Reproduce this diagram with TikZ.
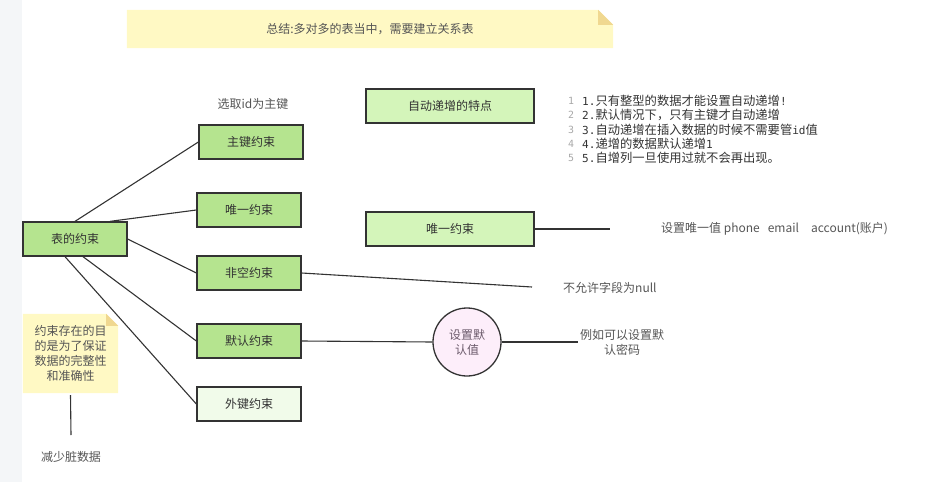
\documentclass[tikz,border=0pt]{standalone}
\usepackage{fontspec}
\setmainfont{Noto Sans CJK SC}
\newfontfamily\monofont[Scale=0.9]{DejaVu Sans Mono}
\usetikzlibrary{positioning}
\definecolor{linegray}{HTML}{333333}
\definecolor{textdark}{HTML}{333333}
\definecolor{textgray}{HTML}{555555}
\definecolor{numgray}{HTML}{A8A8A8}
\definecolor{boxgreen}{HTML}{B5E48F}
\definecolor{paleboxgreen}{HTML}{D4F5BA}
\definecolor{fkgreen}{HTML}{F1FBEA}
\definecolor{notefill}{HTML}{FFF9C4}
\definecolor{foldfill}{HTML}{F0D890}
\definecolor{circfill}{HTML}{FDEEFA}
\definecolor{circtext}{HTML}{6B5A6B}
\definecolor{sidebg}{HTML}{F4F6F8}

\begin{document}
\begin{tikzpicture}[
  x=1pt, y=-1pt,
  font=\fontsize{12}{15}\selectfont,
  box/.style={draw=linegray, line width=1.3pt, fill=boxgreen, text=textdark, minimum width=104pt, minimum height=34pt, inner sep=2pt},
  rbox/.style={box, fill=paleboxgreen, minimum width=168pt},
  lbl/.style={text=textgray, inner sep=1pt, align=center},
  notebox/.style={text=textgray, align=center, inner sep=0pt},
  link/.style={draw=linegray, line width=1.1pt}
]
\useasboundingbox (0,0) rectangle (927,482);
\fill[sidebg] (0,0) rectangle (22,482);

\node[notebox, minimum width=486pt, minimum height=38pt] (topnote) at (370,29) {};
\fill[notefill] (topnote.north west) -- ([xshift=-15pt]topnote.north east) -- ([yshift=-15pt]topnote.north east) -- (topnote.south east) -- (topnote.south west) -- cycle;
\fill[foldfill] ([xshift=-15pt]topnote.north east) -- ([yshift=-15pt]topnote.north east) -- ([xshift=-15pt,yshift=-15pt]topnote.north east) -- cycle;
\node[notebox] at (topnote) {总结:多对多的表当中，需要建立关系表};

\node[box] (tbl) at (75,239) {表的约束};
\node[box] (pk) at (251,142) {主键约束};
\node[box] (uniq) at (249,210) {唯一约束};
\node[box] (notnull) at (249,273) {非空约束};
\node[box] (dflt) at (249,341) {默认约束};
\node[box, fill=fkgreen] (fk) at (249,404) {外键约束};
\node[lbl] (pknote) at (253,104) {选取id为主键};

\draw[link] (tbl.north) -- (pk.west);
\draw[link] ([xshift=35pt]tbl.north) -- (uniq.west);
\draw[link] (tbl.east) -- (notnull.west);
\draw[link] ([xshift=8pt]tbl.south) -- (dflt.west);
\draw[link] ([xshift=-10pt]tbl.south) -- (fk.west);

\node[rbox] (autoinc) at (450,106) {自动递增的特点};
\foreach \n/\txt in {
  1/{{\monofont 1.}只有整型的数据才能设置自动递增{\monofont !}},
  2/{{\monofont 2.}默认情况下，只有主键才自动递增},
  3/{{\monofont 3.}自动递增在插入数据的时候不需要管{\monofont id}值},
  4/{{\monofont 4.}递增的数据默认递增{\monofont 1}},
  5/{{\monofont 5.}自增列一旦使用过就不会再出现。}}{
  \node[text=numgray, inner sep=0pt, font=\fontsize{11}{12}\monofont] (num\n) at (571,{86.7+14.3*\n}) {\n};
  \node[text=textdark, anchor=west, inner sep=0pt, font=\fontsize{12.3}{15}\selectfont] (item\n) at (582,{86.7+14.3*\n}) {\txt};
}

\node[rbox] (uniq2) at (450,229) {唯一约束};
\coordinate (uniqend) at (610,229);
\draw[link] (uniq2.east) -- (uniqend);
\node[lbl, anchor=west] (uniqnote) at (660,229) {设置唯一值 phone\hspace{8pt}email\hspace{12pt}account(账户)};

\coordinate (nnend) at (532,287);
\draw[link] (notnull.east) -- (nnend);
\node[lbl, anchor=west] (nnnote) at (562,288) {不允许字段为null};

\node[circle, draw=linegray, line width=1.3pt, fill=circfill, text=circtext, minimum size=68pt, align=center, inner sep=0pt] (setdef) at (467,342) {设置默\\认值};
\draw[link] (dflt.east) -- (setdef.west);
\coordinate (defend) at (578,342);
\draw[link] (setdef.east) -- (defend);
\node[lbl, anchor=west] (defnote) at (579,342) {例如可以设置默\\认密码};

\node[notebox, minimum width=95pt, minimum height=79pt] (purpose) at (70.5,353.5) {};
\fill[notefill] (purpose.north west) -- ([xshift=-12pt]purpose.north east) -- ([yshift=-12pt]purpose.north east) -- (purpose.south east) -- (purpose.south west) -- cycle;
\fill[foldfill] ([xshift=-12pt]purpose.north east) -- ([yshift=-12pt]purpose.north east) -- ([xshift=-12pt,yshift=-12pt]purpose.north east) -- cycle;
\node[notebox] at (purpose) {约束存在的目\\的是为了保证\\数据的完整性\\和准确性};
\coordinate (purposeend) at (71,435);
\draw[link] ([yshift=-2pt]purpose.south) -- (purposeend);
\node[lbl] (dirty) at (71,457) {减少脏数据};
\end{tikzpicture}
\end{document}
